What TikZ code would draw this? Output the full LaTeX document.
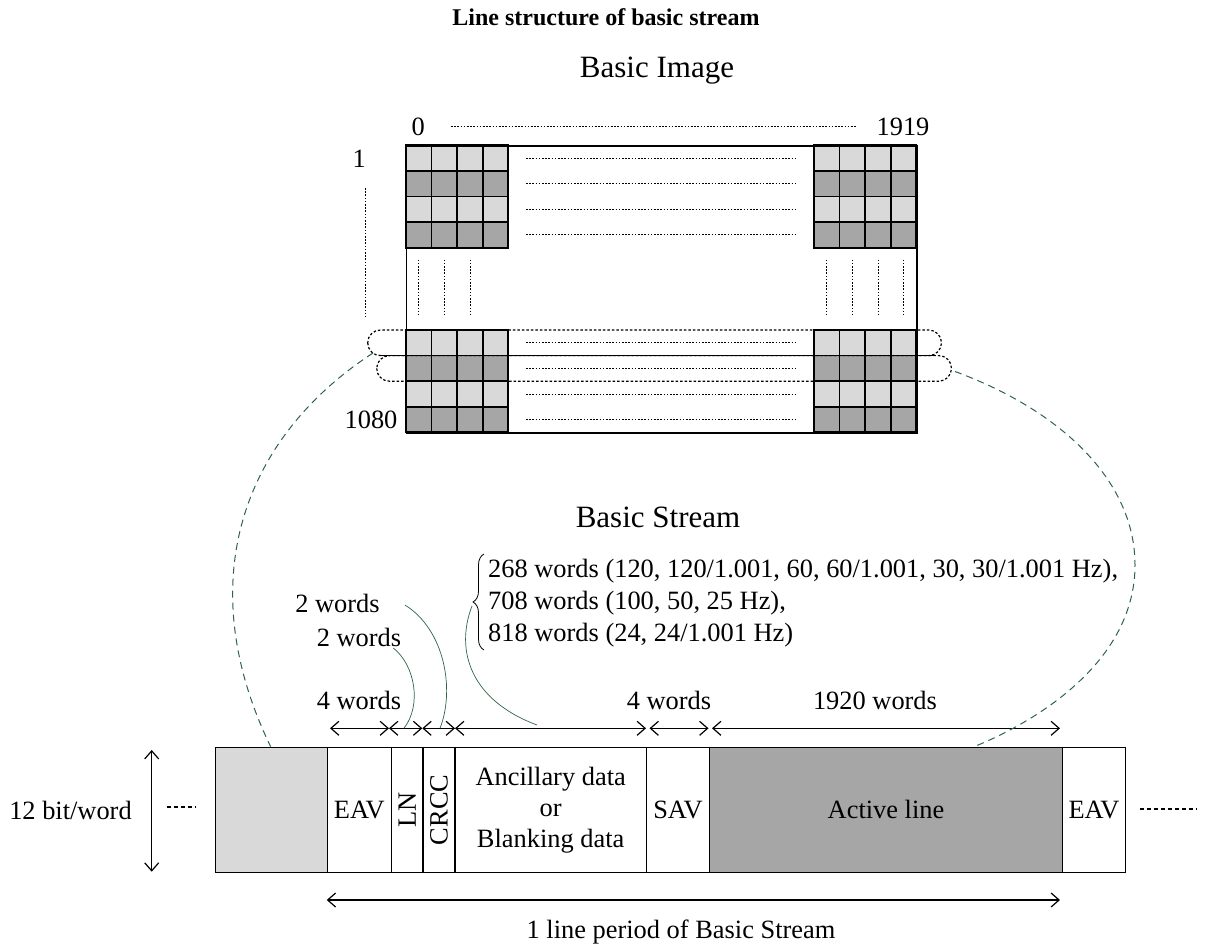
\documentclass[tikz,border=0pt]{standalone}
\usepackage{fontspec}
\setmainfont{Liberation Serif}
\usetikzlibrary{arrows.meta,decorations.pathreplacing}
\definecolor{lg}{RGB}{217,217,217}
\definecolor{dg}{RGB}{166,166,166}
\definecolor{gr}{RGB}{46,100,70}
\begin{document}
\begin{tikzpicture}[x=1pt,y=-1pt,
  txt/.style={font=\fontsize{26.4}{31}\selectfont, inner sep=0pt},
  head/.style={font=\fontsize{31}{36}\selectfont, inner sep=0pt},
  ttl/.style={font=\fontsize{24}{28}\selectfont\bfseries, inner sep=0pt},
  cellbox/.style={draw=black, line width=1.8pt},
  dotln/.style={line width=0.9pt, dash pattern=on 1.6pt off 1.6pt},
  loopln/.style={line width=1.2pt, dash pattern=on 2.5pt off 2pt},
  bigdash/.style={gr, line width=1pt, dash pattern=on 7pt off 5pt},
  thinc/.style={gr, line width=0.7pt},
  dimarrow/.style={line width=1.2pt, {Straight Barb[length=8pt,width=14pt]}-{Straight Barb[length=8pt,width=14pt]}},
  segbox/.style={draw=black, line width=1.3pt, minimum height=125pt, inner sep=0pt, anchor=north west},
  sidedots/.style={line width=1.5pt, dash pattern=on 4pt off 3pt}
]
\useasboundingbox (0,0) rectangle (1208,948);

% title and headings
\node[ttl] (title) at (606,17) {Line structure of basic stream};
\node[head] (himg) at (657,71) {Basic Image};
\node[head] (hstr) at (658,517) {Basic Stream};

% ---------- Basic image grid ----------
\def\cw{25.575}
\foreach \bx in {406,814.0}{
  \foreach \by in {145.3,330}{
    \foreach \r in {0,1,2,3}{
      \foreach \c in {0,1,2,3}{
        \ifodd\r
          \draw[cellbox, fill=dg] (\bx+\c*\cw, \by+\r*\cw) rectangle +(\cw,\cw);
        \else
          \draw[cellbox, fill=lg] (\bx+\c*\cw, \by+\r*\cw) rectangle +(\cw,\cw);
        \fi
      }
    }
  }
}
\node[draw=black, line width=1.3pt, minimum width=510.3pt, minimum height=287.1pt, inner sep=0pt, anchor=north west] (img) at (406,145.3) {};

% row dotted lines
\foreach \y in {158.1,183.7,209.3,234.9,342.8,368.4,394.0,419.6}
  \draw[dotln] (526,\y) -- (796,\y);
% middle vertical dotted lines
\foreach \x in {418.8,444.4,470.0,826.8,852.4,878.0,903.5}
  \draw[dotln] (\x,259.5) -- (\x,315);

% labels
\node[txt] (n0) at (418.3,126.7) {0};
\node[txt] (n1919) at (903,126.7) {1919};
\node[txt] (n1) at (359.3,158.3) {1};
\node[txt] (n1080) at (371,420) {1080};
\draw[dotln] ([xshift=25.8pt]n0.east) -- ([xshift=-20pt]n1919.west);
\draw[dotln] (365,188) -- (365,317);

% loops
\draw[loopln, rounded corners=12.8pt] (367.7,330) rectangle (941.5,355.6);
\draw[loopln, rounded corners=12.8pt] (376.7,355.6) rectangle (951.5,381.2);
\draw[line width=1.5pt] (379,355.6) -- (934,355.6);
\coordinate (loopL) at (373,353);
\coordinate (loopR) at (955,371.5);

% ---------- Basic stream ----------
\node[segbox, fill=lg, minimum width=111.7pt] (blank) at (215,746.7) {};
\node[segbox, minimum width=64pt] (eav1) at (326.7,746.7) {};
\node[segbox, minimum width=31.6pt] (ln) at (390.7,746.7) {};
\node[segbox, minimum width=32pt] (crcc) at (422.3,746.7) {};
\node[segbox, minimum width=191.4pt] (anc) at (454.3,746.7) {};
\node[segbox, minimum width=63.3pt] (sav) at (645.7,746.7) {};
\node[segbox, fill=dg, minimum width=352.7pt] (active) at (709,746.7) {};
\node[segbox, minimum width=63.3pt] (eav2) at (1061.7,746.7) {};

\node[txt] (teav1) at (eav1.center) {EAV};
\node[txt, rotate=90] (tln) at (ln.center) {LN};
\node[txt, rotate=90] (tcrcc) at (crcc.center) {CRCC};
\node[txt, align=center, font=\fontsize{26.4}{31}\selectfont] (tanc) at (anc.center) {Ancillary data\\or\\Blanking data};
\node[txt] (tsav) at (sav.center) {SAV};
\node[txt] (tact) at (active.center) {Active line};
\node[txt] (teav2) at (eav2.center) {EAV};

% side dots and 12 bit/word
\draw[sidedots] (166.7,807) -- (195,807);
\draw[sidedots] (1140,809) -- (1197,809);
\node[txt] (bits) at (70.5,810) {12 bit/word};
\coordinate (vt) at (151.7,750);
\coordinate (vb) at (151.7,871.7);
\draw[dimarrow] (vt) -- (vb);

% dimension arrows on top
\coordinate (a0) at (330,728.3);
\coordinate (a1) at (389,728.3);
\coordinate (a2) at (422.3,728.3);
\coordinate (a3) at (455,728.3);
\coordinate (a4) at (646,728.3);
\coordinate (a5) at (649.5,728.3);
\coordinate (a6) at (708.5,728.3);
\coordinate (a7) at (712,728.3);
\coordinate (a8) at (1060,728.3);
\draw[dimarrow] (a0) -- (a1);
\draw[dimarrow] (a1) -- (a2);
\draw[dimarrow] (a2) -- (a3);
\draw[dimarrow] (a3) -- (a4);
\draw[dimarrow] (a5) -- (a6);
\draw[dimarrow] (a7) -- (a8);
\node[txt] (w4a) at (359,700) {4 words};
\node[txt] (w4b) at (669,700) {4 words};
\node[txt] (w1920) at (875,700) {1920 words};

% bottom arrow
\coordinate (b0) at (326.7,900);
\coordinate (b1) at (1060,900);
\draw[dimarrow] (b0) -- (b1);
\node[txt] (period) at (681,932) {1 line period of Basic Stream};

% word-count notes
\node[txt] (w2a) at (337.5,603) {2 words};
\node[txt] (w2b) at (359,637) {2 words};
\node[txt, align=left, anchor=west, font=\fontsize{26.4}{32}\selectfont] (tb) at (488,603)
  {268 words (120, 120/1.001, 60, 60/1.001, 30, 30/1.001 Hz),\\708 words (100, 50, 25 Hz),\\818 words (24, 24/1.001 Hz)};
\draw[line width=0.8pt, decorate, decoration={brace, amplitude=11pt}] (484,650) -- (484,554);
\coordinate (btip) at (472,606);

% thin green leader curves
\coordinate (cA) at (405,605);
\coordinate (cB) at (393.3,648);
\coordinate (eA) at (440,728.3);
\coordinate (eB) at (404,728.3);
\coordinate (eC) at (537,725);
\draw[thinc] (cA) .. controls (445,630) and (455,690) .. (eA);
\draw[thinc] (cB) .. controls (415,665) and (422,705) .. (eB);
\draw[thinc] (btip) .. controls (455,650) and (470,700) .. (eC);

% big dashed curves
\coordinate (sL) at ([xshift=-0.85pt]blank.north);
\coordinate (sR) at ([xshift=88pt]active.north);
\coordinate (rmax) at (1135,565);
\draw[bigdash] (loopL) .. controls (244,437) and (190,580) .. (sL);
\draw[bigdash] (loopR) .. controls (1060,410) and (1135,480) .. (rmax)
                       .. controls (1135,660) and (1040,720) .. (sR);
\end{tikzpicture}
\end{document}
